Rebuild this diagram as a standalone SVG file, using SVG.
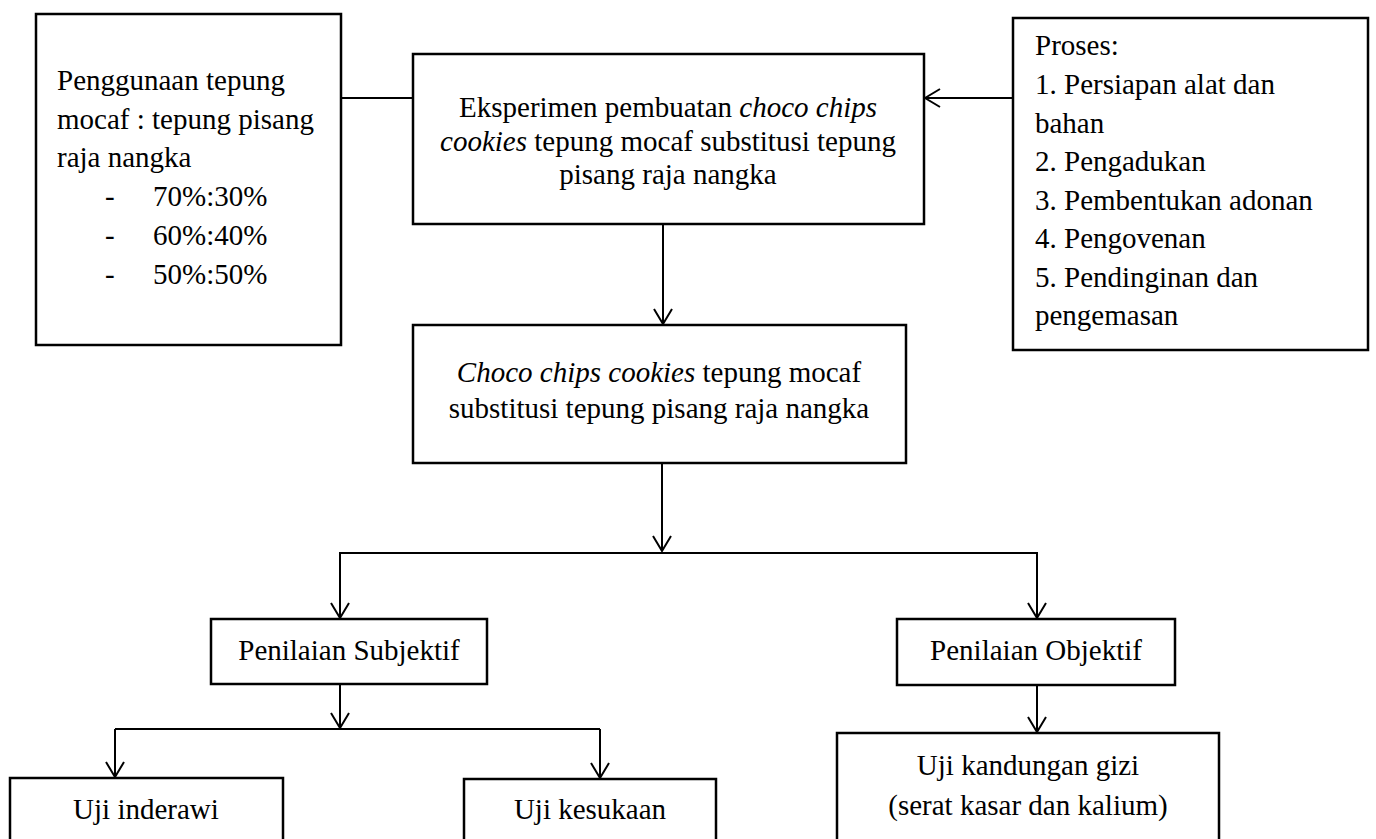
<svg xmlns="http://www.w3.org/2000/svg" width="1376" height="839" viewBox="0 0 1376 839">
<style>
.box{fill:#fff;stroke:#000;stroke-width:2.5}
.t{font-family:"Liberation Serif","Times New Roman",serif;font-size:29px;fill:#000}
.c{text-anchor:middle}
.i{font-style:italic}
.ln{fill:none;stroke:#000;stroke-width:2}
</style>
<defs>
<marker id="ah" viewBox="0 0 17 20" refX="16" refY="10" markerWidth="17" markerHeight="20" markerUnits="userSpaceOnUse" orient="auto">
<path d="M1,1 L16,10 L1,19" fill="none" stroke="#000" stroke-width="2"/>
</marker>
</defs>
<rect width="1376" height="839" fill="#fff"/>
<g id="connectors">
<line class="ln" x1="341" y1="98" x2="413" y2="98"/>
<line class="ln" x1="1013" y1="98" x2="925" y2="98" marker-end="url(#ah)"/>
<line class="ln" x1="663" y1="224" x2="663" y2="324" marker-end="url(#ah)"/>
<line class="ln" x1="662" y1="463" x2="662" y2="551" marker-end="url(#ah)"/>
<polyline class="ln" points="340,618 340,553 1037,553 1037,618"/>
<line class="ln" x1="340" y1="553" x2="340" y2="618" marker-end="url(#ah)"/>
<line class="ln" x1="1037" y1="553" x2="1037" y2="618" marker-end="url(#ah)"/>
<line class="ln" x1="340" y1="684" x2="340" y2="728" marker-end="url(#ah)"/>
<polyline class="ln" points="115,729 600,729"/>
<line class="ln" x1="115" y1="729" x2="115" y2="777" marker-end="url(#ah)"/>
<line class="ln" x1="600" y1="729" x2="600" y2="778" marker-end="url(#ah)"/>
<line class="ln" x1="1037" y1="685" x2="1037" y2="732" marker-end="url(#ah)"/>
</g>
<g id="node-penggunaan">
<rect class="box" x="36" y="14" width="305" height="331"/>
<text class="t" x="57" y="90">Penggunaan tepung</text>
<text class="t" x="57" y="129">mocaf : tepung pisang</text>
<text class="t" x="57" y="167">raja nangka</text>
<text class="t" x="105" y="206">-</text><text class="t" x="153" y="206">70%:30%</text>
<text class="t" x="105" y="245">-</text><text class="t" x="153" y="245">60%:40%</text>
<text class="t" x="105" y="284">-</text><text class="t" x="153" y="284">50%:50%</text>
</g>
<g id="node-eksperimen">
<rect class="box" x="413" y="54" width="511" height="170"/>
<text class="t c" x="668" y="117">Eksperimen pembuatan <tspan class="i">choco chips</tspan></text>
<text class="t c" x="668" y="151"><tspan class="i">cookies</tspan> tepung mocaf substitusi tepung</text>
<text class="t c" x="668" y="184">pisang raja nangka</text>
</g>
<g id="node-proses">
<rect class="box" x="1013" y="18" width="355" height="332"/>
<text class="t" x="1035" y="55">Proses:</text>
<text class="t" x="1035" y="94">1. Persiapan alat dan</text>
<text class="t" x="1035" y="133">bahan</text>
<text class="t" x="1035" y="171">2. Pengadukan</text>
<text class="t" x="1035" y="210">3. Pembentukan adonan</text>
<text class="t" x="1035" y="248">4. Pengovenan</text>
<text class="t" x="1035" y="287">5. Pendinginan dan</text>
<text class="t" x="1035" y="325">pengemasan</text>
</g>
<g id="node-cookies">
<rect class="box" x="413" y="325" width="493" height="138"/>
<text class="t c" x="659" y="382"><tspan class="i">Choco chips cookies</tspan> tepung mocaf</text>
<text class="t c" x="659" y="418">substitusi tepung pisang raja nangka</text>
</g>
<g id="node-subjektif">
<rect class="box" x="211" y="619" width="276" height="65"/>
<text class="t c" x="349" y="660">Penilaian Subjektif</text>
</g>
<g id="node-objektif">
<rect class="box" x="897" y="619" width="278" height="66"/>
<text class="t c" x="1036" y="660">Penilaian Objektif</text>
</g>
<g id="node-inderawi">
<rect class="box" x="10" y="778" width="273" height="80"/>
<text class="t c" x="146" y="819">Uji inderawi</text>
</g>
<g id="node-kesukaan">
<rect class="box" x="464" y="779" width="252" height="80"/>
<text class="t c" x="590" y="819">Uji kesukaan</text>
</g>
<g id="node-gizi">
<rect class="box" x="837" y="733" width="382" height="130"/>
<text class="t c" x="1028" y="775">Uji kandungan gizi</text>
<text class="t c" x="1028" y="815">(serat kasar dan kalium)</text>
</g>
</svg>
